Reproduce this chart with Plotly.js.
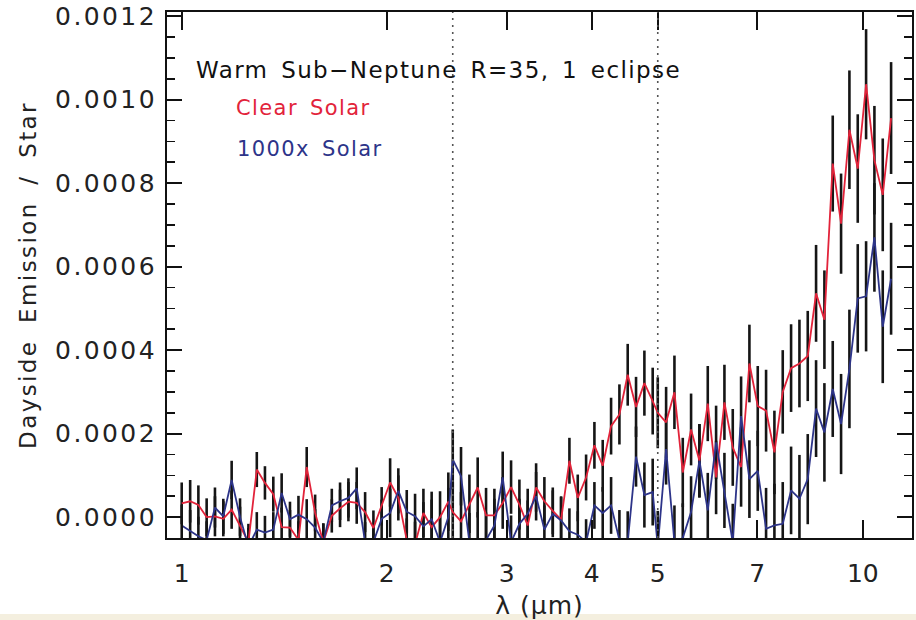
<!DOCTYPE html>
<html>
<head>
<meta charset="utf-8">
<script src="https://cdn.plot.ly/plotly-3.0.1.min.js"></script>
<style>
  html, body { margin: 0; padding: 0; background: #ffffff; }
  #chart { width: 916px; height: 620px; }
  .ytick text { letter-spacing: 2.4px; }
  .ytitle { letter-spacing: 2.4px; word-spacing: 7px; }
  .xtitle { letter-spacing: 1px; }
  .annotation-text { letter-spacing: 1.4px; word-spacing: 4px; }
</style>
</head>
<body>
<div id="chart"></div>
<script>
// ---------------- data ----------------
// wavelength bins (micron) per instrument segment (R=35 binning)
const waveSeg1 = [1.000, 1.029, 1.058, 1.088, 1.119, 1.151, 1.184, 1.218, 1.253, 1.289, 1.325, 1.363, 1.402, 1.442, 1.484, 1.526, 1.570, 1.614, 1.661, 1.708, 1.757, 1.807, 1.859, 1.912, 1.966, 2.023, 2.080, 2.140, 2.201, 2.264, 2.328, 2.395, 2.463];
const waveSeg2 = [2.500, 2.571, 2.645, 2.720, 2.798, 2.878, 2.960, 3.045, 3.132, 3.221, 3.314, 3.408, 3.506, 3.606, 3.709, 3.815, 3.924, 4.036, 4.151, 4.270, 4.392, 4.517, 4.646, 4.779, 4.915];
const waveSeg3 = [5.000, 5.143, 5.290, 5.441, 5.596, 5.756, 5.921, 6.090, 6.264, 6.443, 6.627, 6.816, 7.011, 7.211, 7.417, 7.629, 7.847, 8.072, 8.302, 8.539, 8.783, 9.034, 9.292, 9.558, 9.831, 10.112, 10.401, 10.698, 11.004];

// "Clear Solar" dayside emission / star
const clearSolar = [
  0.33e-4, 0.38e-4, 0.29e-4, 0.00e-4, 0.02e-4, -0.04e-4, 0.18e-4, -0.20e-4, -0.60e-4, 1.14e-4, 0.82e-4, 0.55e-4, -0.24e-4, -0.25e-4, -0.55e-4, 1.20e-4, 0.10e-4, -0.60e-4, 0.03e-4, 0.21e-4, 0.37e-4, 0.34e-4, 0.12e-4, -0.26e-4, 0.26e-4, 0.83e-4, 0.46e-4, -0.55e-4, -0.65e-4, 0.10e-4, -0.24e-4, 0.00e-4, 0.37e-4,
  0.12e-4, -0.10e-4, 0.32e-4, 0.71e-4, 0.04e-4, 0.04e-4, 0.34e-4, 0.72e-4, 0.30e-4, -0.20e-4, 0.71e-4, 0.38e-4, 0.15e-4, -0.06e-4, 1.35e-4, 0.46e-4, 0.95e-4, 1.72e-4, 1.23e-4, 2.18e-4, 2.46e-4, 3.41e-4, 2.64e-4, 3.21e-4, 2.78e-4,
  2.50e-4, 2.27e-4, 2.99e-4, 1.07e-4, 2.10e-4, 1.35e-4, 2.72e-4, 0.95e-4, 2.75e-4, 1.67e-4, 1.20e-4, 3.68e-4, 2.66e-4, 2.55e-4, 1.55e-4, 3.00e-4, 3.57e-4, 3.68e-4, 3.86e-4, 5.36e-4, 4.73e-4, 8.47e-4, 7.03e-4, 9.28e-4, 8.35e-4, 10.37e-4, 8.55e-4, 7.72e-4, 9.56e-4
];

// "1000x Solar" dayside emission / star
const metalRich = [
  -0.20e-4, -0.34e-4, -0.46e-4, -0.55e-4, 0.23e-4, 0.02e-4, 0.89e-4, 0.00e-4, -0.70e-4, -0.30e-4, -0.37e-4, -0.30e-4, 0.58e-4, -0.05e-4, 0.06e-4, -0.05e-4, -0.25e-4, -0.60e-4, 0.28e-4, 0.38e-4, 0.46e-4, 0.69e-4, -0.60e-4, -0.60e-4, -0.04e-4, 0.10e-4, 0.63e-4, 0.13e-4, 0.02e-4, -0.22e-4, -0.05e-4, -0.60e-4, 0.00e-4,
  1.38e-4, 0.98e-4, -0.60e-4, -0.60e-4, -0.55e-4, -0.20e-4, 0.95e-4, -0.60e-4, -0.16e-4, 0.08e-4, 0.50e-4, -0.30e-4, 0.08e-4, -0.08e-4, -0.34e-4, -0.42e-4, -0.60e-4, 0.28e-4, 0.10e-4, 0.28e-4, -0.55e-4, -0.60e-4, 1.45e-4, 0.53e-4, 0.60e-4,
  -0.70e-4, 1.63e-4, -0.60e-4, -0.50e-4, 0.12e-4, 1.35e-4, 0.16e-4, 1.79e-4, 0.64e-4, -0.60e-4, 2.42e-4, 0.91e-4, 1.11e-4, -0.28e-4, -0.20e-4, -0.16e-4, 0.64e-4, 0.44e-4, 0.91e-4, 2.60e-4, 2.03e-4, 3.07e-4, 2.23e-4, 3.55e-4, 5.24e-4, 5.29e-4, 6.70e-4, 4.56e-4, 5.71e-4
];

// 1-sigma uncertainty per bin (1 eclipse)
const sigma = [
  0.50e-4, 0.51e-4, 0.47e-4, 0.45e-4, 0.48e-4, 0.42e-4, 0.46e-4, 0.45e-4, 0.44e-4, 0.42e-4, 0.40e-4, 0.42e-4, 0.47e-4, 0.42e-4, 0.45e-4, 0.48e-4, 0.44e-4, 0.45e-4, 0.40e-4, 0.45e-4, 0.47e-4, 0.50e-4, 0.48e-4, 0.42e-4, 0.46e-4, 0.58e-4, 0.54e-4, 0.52e-4, 0.54e-4, 0.58e-4, 0.66e-4, 0.62e-4, 0.70e-4,
  0.72e-4, 0.70e-4, 0.70e-4, 0.72e-4, 0.66e-4, 0.64e-4, 0.62e-4, 0.64e-4, 0.60e-4, 0.60e-4, 0.58e-4, 0.58e-4, 0.56e-4, 0.56e-4, 0.55e-4, 0.56e-4, 0.55e-4, 0.56e-4, 0.62e-4, 0.68e-4, 0.72e-4, 0.74e-4, 0.72e-4, 0.78e-4, 0.80e-4,
  0.85e-4, 0.85e-4, 0.88e-4, 0.83e-4, 0.86e-4, 0.88e-4, 0.90e-4, 0.88e-4, 0.90e-4, 0.92e-4, 0.95e-4, 0.93e-4, 0.96e-4, 0.98e-4, 1.00e-4, 1.00e-4, 1.05e-4, 1.05e-4, 1.08e-4, 1.16e-4, 1.18e-4, 1.15e-4, 1.20e-4, 1.42e-4, 1.30e-4, 1.32e-4, 1.30e-4, 1.35e-4, 1.34e-4
];

const instrumentEdges = [2.5, 5.0];
const xTickVals = [1, 2, 3, 4, 5, 7, 10];
const xTickText = ['1', '2', '3', '4', '5', '7', '10'];
const seriesNames = ['Clear Solar', '1000x Solar'];
const seriesColors = ['#e2233a', '#2d3489'];
const chartLabel = 'Warm Sub\u2212Neptune R=35, 1 eclipse';
const xTitle = '\u03bb (\u03bcm)';
const yTitle = 'Dayside Emission / Star';

// ---------------- chart ----------------
const wave = waveSeg1.concat(waveSeg2, waveSeg3);

function errTrace(y) {
  return {
    x: wave, y: y, mode: 'markers', type: 'scatter',
    marker: { size: 2, opacity: 0 },
    error_y: { type: 'data', array: sigma, visible: true, color: '#151515', thickness: 2.6, width: 0 },
    hoverinfo: 'skip', showlegend: false
  };
}
function lineTrace(y, i) {
  return {
    x: wave, y: y, mode: 'lines', type: 'scatter', name: seriesNames[i],
    line: { color: seriesColors[i], width: 1.8 }, showlegend: false
  };
}

const data = [
  errTrace(clearSolar), errTrace(metalRich),
  lineTrace(clearSolar, 0), lineTrace(metalRich, 1)
];

const plotH = 620 - 12 - 82;
function py(pix) { return 1 - (pix - 12) / plotH; }
function px(pix) { return (pix - 167) / 745; }

const shapes = instrumentEdges.map(v => ({
  type: 'line', xref: 'x', yref: 'paper', x0: v, x1: v, y0: 0, y1: 1,
  line: { color: '#555555', width: 1.6, dash: '2px,5px' }, layer: 'above'
}));
// faint strip at the very bottom edge of the picture
shapes.push({
  type: 'rect', xref: 'paper', yref: 'paper', x0: px(0), x1: px(916), y0: py(620), y1: py(614),
  fillcolor: '#f4efdf', line: { width: 0 }, layer: 'above'
});

const layout = {
  width: 916, height: 620,
  margin: { l: 167, r: 4, t: 12, b: 82, pad: 0 },
  paper_bgcolor: '#ffffff', plot_bgcolor: '#ffffff',
  showlegend: false,
  font: { family: 'DejaVu Sans', color: '#222222' },
  xaxis: {
    type: 'log', range: [Math.log10(0.9515), Math.log10(11.81)],
    tickmode: 'array', tickvals: xTickVals, ticktext: xTickText,
    ticks: 'inside', ticklen: 18, tickwidth: 2, tickcolor: '#111',
    showline: true, linewidth: 2, linecolor: '#111', mirror: 'ticks',
    showgrid: false, zeroline: false,
    tickfont: { size: 25, color: '#222' }, ticklabelstandoff: 12,
    title: { text: xTitle, font: { size: 25, color: '#222' }, standoff: 12 }
  },
  yaxis: {
    range: [-0.00005, 0.00121], tickmode: 'linear', tick0: 0, dtick: 0.0002,
    tickformat: '.4f',
    ticks: 'inside', ticklen: 15, tickwidth: 2, tickcolor: '#111',
    minor: { tickmode: 'linear', tick0: 0, dtick: 0.00005, ticks: 'inside', ticklen: 8, tickwidth: 1.6, tickcolor: '#111', showgrid: false },
    showline: true, linewidth: 2, linecolor: '#111', mirror: 'ticks',
    showgrid: false, zeroline: false,
    tickfont: { size: 25, color: '#222' }, ticklabelstandoff: 3,
    title: { text: yTitle, font: { size: 23, color: '#222' }, standoff: 12 }
  },
  shapes: shapes,
  annotations: [
    { xref: 'paper', yref: 'paper', x: px(194), y: py(70), xanchor: 'left', yanchor: 'middle',
      text: chartLabel, showarrow: false, font: { size: 23, color: '#111' } },
    { xref: 'paper', yref: 'paper', x: px(234), y: py(108), xanchor: 'left', yanchor: 'middle',
      text: seriesNames[0], showarrow: false, font: { size: 21, color: seriesColors[0] } },
    { xref: 'paper', yref: 'paper', x: px(235), y: py(149), xanchor: 'left', yanchor: 'middle',
      text: seriesNames[1], showarrow: false, font: { size: 21, color: seriesColors[1] } }
  ]
};

Plotly.newPlot('chart', data, layout, { staticPlot: true, displayModeBar: false });
</script>
</body>
</html>
